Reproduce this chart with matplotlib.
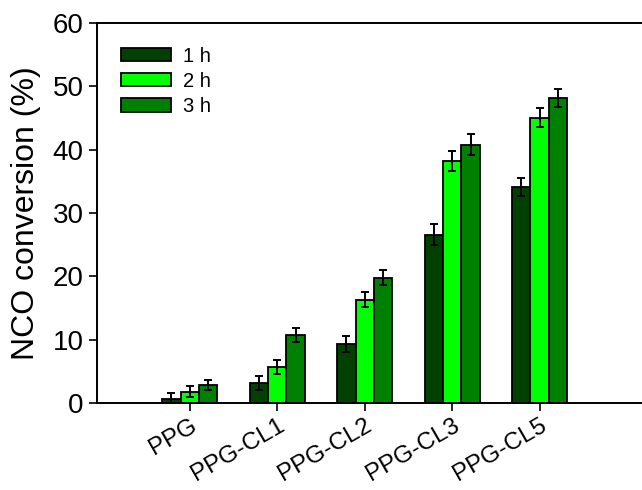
import numpy as np
import matplotlib
matplotlib.use('Agg')
import matplotlib.pyplot as plt

plt.rcParams['font.family'] = ['Liberation Sans', 'DejaVu Sans']

samples = ['PPG', 'PPG-CL1', 'PPG-CL2', 'PPG-CL3', 'PPG-CL5']
h1 = [0.7, 3.2, 9.3, 26.6, 34.1]
h2 = [1.8, 5.7, 16.3, 38.2, 45.0]
h3 = [2.85, 10.8, 19.8, 40.8, 48.1]
e1 = [0.8, 1.1, 1.2, 1.7, 1.4]
e2 = [0.9, 1.1, 1.2, 1.6, 1.5]
e3 = [0.85, 1.1, 1.2, 1.7, 1.4]
series = ['1 h', '2 h', '3 h']
colors = ['#004000', '#00ff00', '#008000']

fig = plt.figure(figsize=(6.42, 4.9), dpi=100)
ax = fig.add_axes([0.151, 0.1776, 0.851, 0.7755])

x = np.arange(len(samples))
w = 0.21
for i, (vals, errs) in enumerate([(h1, e1), (h2, e2), (h3, e3)]):
    ax.bar(x + (i - 1) * w, vals, w, yerr=errs, color=colors[i], edgecolor='black',
           linewidth=1.3, label=series[i],
           error_kw=dict(ecolor='black', elinewidth=1.4, capsize=2.6, capthick=1.4))

ax.set_xlim(-1.06, 5.184)
ax.set_ylim(0, 60)
ax.set_yticks(range(0, 61, 10))
ax.set_xticks(x)
ax.set_xticklabels(samples, rotation=30, ha='right', rotation_mode='anchor', fontsize=17.5)
ax.tick_params(axis='y', labelsize=20, direction='out', length=6, width=1.2)
ax.tick_params(axis='x', direction='out', length=6, width=1.2, pad=2.5)
ax.set_ylabel('NCO conversion (%)', fontsize=23)
ax.yaxis.set_label_coords(-0.102, 0.5)
for s in ax.spines.values():
    s.set_linewidth(1.4)

ax.legend(loc='upper left', frameon=False, fontsize=14.5, handlelength=2.5, handleheight=0.65,
          bbox_to_anchor=(0.01, 0.985), labelspacing=0.3, handletextpad=0.6)

fig.savefig('out.png', dpi=100)
